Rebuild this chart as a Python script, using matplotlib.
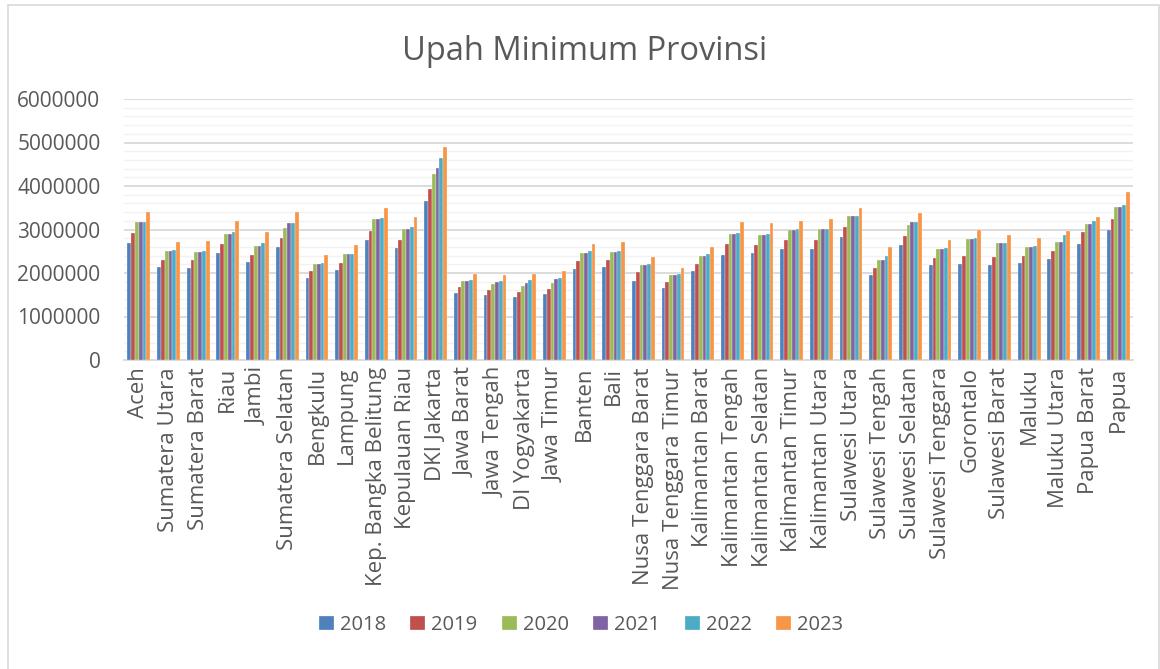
import numpy as np
import matplotlib.pyplot as plt
from matplotlib.patches import Rectangle
from matplotlib.ticker import MultipleLocator

plt.rcParams['font.family'] = ['Open Sans', 'DejaVu Sans']

provinces = [
    'Aceh', 'Sumatera Utara', 'Sumatera Barat', 'Riau', 'Jambi',
    'Sumatera Selatan', 'Bengkulu', 'Lampung', 'Kep. Bangka Belitung',
    'Kepulauan Riau', 'DKI Jakarta', 'Jawa Barat', 'Jawa Tengah',
    'DI Yogyakarta', 'Jawa Timur', 'Banten', 'Bali', 'Nusa Tenggara Barat',
    'Nusa Tenggara Timur', 'Kalimantan Barat', 'Kalimantan Tengah',
    'Kalimantan Selatan', 'Kalimantan Timur', 'Kalimantan Utara',
    'Sulawesi Utara', 'Sulawesi Tengah', 'Sulawesi Selatan',
    'Sulawesi Tenggara', 'Gorontalo', 'Sulawesi Barat', 'Maluku',
    'Maluku Utara', 'Papua Barat', 'Papua',
]
years = ['2018', '2019', '2020', '2021', '2022', '2023']

ump_2018 = [2700000, 2132189, 2119067, 2464154, 2243718, 2595995, 1888741,
            2074673, 2755443, 2563875, 3648036, 1544360, 1486065, 1454154,
            1508894, 2099385, 2127157, 1825000, 1660000, 2046900, 2421305,
            2454671, 2543331, 2559903, 2824286, 1965232, 2647767, 2177052,
            2206813, 2193530, 2222220, 2320803, 2667000, 3000000]
ump_2019 = [2916810, 2303403, 2289228, 2662025, 2423889, 2804453, 2040407,
            2241270, 2976705, 2769683, 3940973, 1668372, 1605396, 1570922,
            1630059, 2267990, 2297969, 2012610, 1795000, 2211500, 2663435,
            2651781, 2747561, 2765463, 3051076, 2123040, 2860382, 2351870,
            2384020, 2369670, 2400664, 2508091, 2934500, 3240900]
ump_2020 = [3165031, 2499423, 2484041, 2888564, 2630162, 3043111, 2213604,
            2432002, 3230022, 3005383, 4276349, 1810350, 1742015, 1704608,
            1768777, 2460996, 2494000, 2183883, 1950000, 2399698, 2890093,
            2877448, 2981378, 3000803, 3310723, 2303710, 3103800, 2552014,
            2788826, 2678863, 2604961, 2721530, 3134600, 3516700]
ump_2021 = [3165031, 2499423, 2484041, 2888564, 2630162, 3144446, 2215000,
            2432002, 3230022, 3005460, 4416186, 1810351, 1798979, 1765000,
            1868777, 2460996, 2494000, 2183883, 1950000, 2399698, 2903145,
            2877449, 2981379, 3000804, 3310723, 2303711, 3165876, 2552015,
            2788826, 2678863, 2604961, 2721530, 3134600, 3516700]
ump_2022 = [3166460, 2522609, 2512539, 2938564, 2698940, 3144446, 2238094,
            2440486, 3264884, 3050172, 4641854, 1841487, 1812935, 1840951,
            1891567, 2501203, 2516971, 2207212, 1975000, 2434328, 2922516,
            2906473, 3014497, 3016738, 3310723, 2390739, 3165876, 2576016,
            2800580, 2678863, 2618312, 2862231, 3200000, 3561932]
ump_2023 = [3413666, 2710493, 2742476, 3191662, 2943033, 3404177, 2418280,
            2633284, 3498479, 3279194, 4901798, 1986670, 1958169, 1981782,
            2040244, 2661280, 2713672, 2371407, 2123994, 2608601, 3181013,
            3149977, 3201396, 3251702, 3485000, 2599546, 3385145, 2758984,
            2989350, 2871794, 2812827, 2976720, 3282000, 3864696]

series = [ump_2018, ump_2019, ump_2020, ump_2021, ump_2022, ump_2023]
colors = ['#4F81BD', '#C0504D', '#9BBB59', '#8064A2', '#4BACC6', '#F79646']
text_color = '#595959'

fig = plt.figure(figsize=(11.6, 6.69), dpi=100)
# chart frame
fig.patches.append(Rectangle((8 / 1160, -0.01), 1150.5 / 1160, 1 - 5 / 669 + 0.01,
                             transform=fig.transFigure, fill=False,
                             edgecolor='#D9D9D9', linewidth=1.2))

ax = fig.add_axes([124 / 1160, 1 - 360 / 669, 1009 / 1160, 261 / 669])

x = np.arange(len(provinces))
width = 0.128
for i, (vals, col, yr) in enumerate(zip(series, colors, years)):
    ax.bar(x + (i - 2.5) * width, vals, width, color=col, label=yr,
           edgecolor='white', linewidth=0.2, zorder=3)

ax.set_xlim(-0.5, len(provinces) - 0.5)
ax.set_ylim(0, 6000000)
ax.yaxis.set_major_locator(MultipleLocator(1000000))
ax.yaxis.set_minor_locator(MultipleLocator(200000))
ax.grid(axis='y', which='major', color='#D9D9D9', linewidth=1.3, zorder=0)
ax.grid(axis='y', which='minor', color='#F2F2F2', linewidth=1.0, zorder=0)
ax.set_axisbelow(True)
for s in ['top', 'right', 'left']:
    ax.spines[s].set_visible(False)
ax.spines['bottom'].set_color('#D9D9D9')
ax.spines['bottom'].set_linewidth(1.3)

ax.set_xticks(x)
ax.set_xticklabels(provinces, rotation=90, fontsize=16, color=text_color)
ax.tick_params(axis='x', length=0, pad=5)
ax.tick_params(axis='y', which='both', length=0, pad=17, labelsize=15,
               labelcolor=text_color)
ax.yaxis.set_major_formatter(plt.FuncFormatter(lambda v, p: f'{int(v)}'))

fig.text(585 / 1160, 1 - 51 / 669, 'Upah Minimum Provinsi', fontsize=23.5,
         color=text_color, ha='center', va='center')

fig.legend(loc='center', bbox_to_anchor=(581 / 1160, 1 - 625 / 669), ncol=6,
           frameon=False, fontsize=14.5, handlelength=0.75, handleheight=0.75,
           handletextpad=0.3, columnspacing=1.2, labelcolor=text_color)

fig.savefig('out.png', dpi=100)
